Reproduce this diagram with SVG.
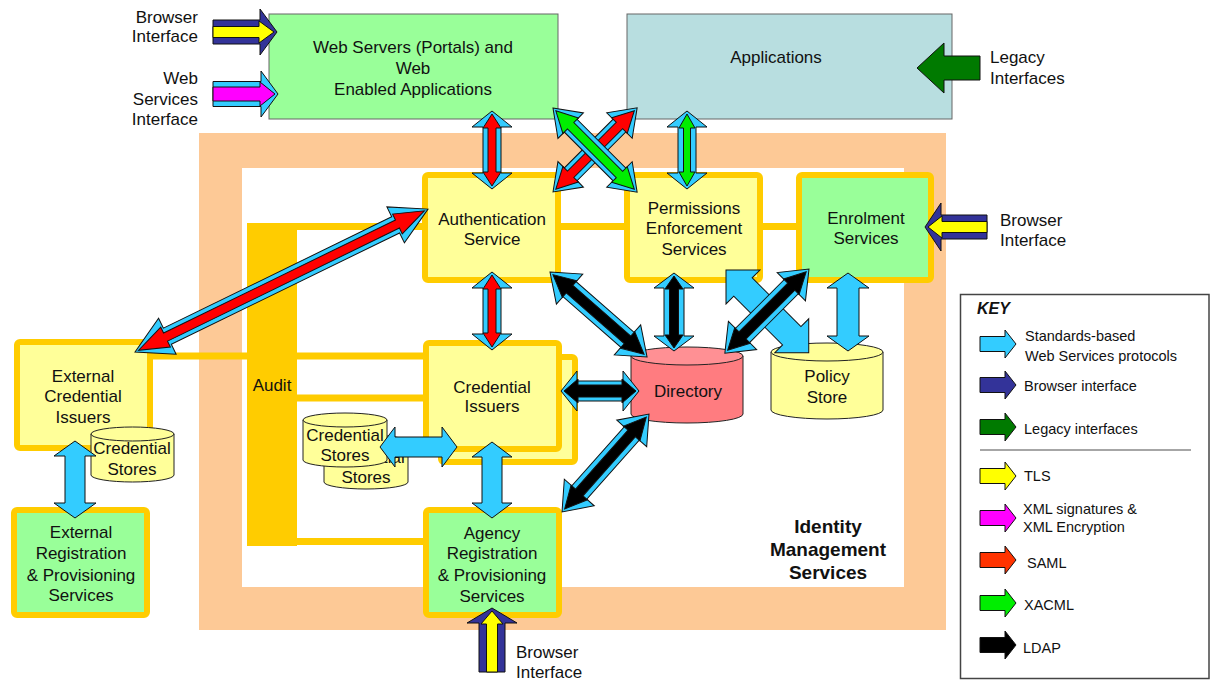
<svg xmlns="http://www.w3.org/2000/svg" width="1211" height="680" viewBox="0 0 1211 680">
  <style>
    .t{font-family:"Liberation Sans",Arial,sans-serif;font-size:17px;fill:#111;text-anchor:middle}
    .s{text-anchor:start}
    .e{text-anchor:end}
    .k{font-family:"Liberation Sans",Arial,sans-serif;font-size:14.5px;fill:#111}
    .box{stroke:#FFCC00;stroke-width:6}
    .yl{fill:#FFFF99}
    .gr{fill:#99FF99}
    .cyl{stroke:#222;stroke-width:1}
    .link{stroke:#FFCC00;stroke-width:7;fill:none}
    .ar polygon{stroke:#111;stroke-width:1;stroke-linejoin:miter}
    .c{fill:#33CCFF}
    .n{fill:#333399}
    .yw{fill:#FFFF00}
    .m{fill:#FF00FF}
    .r{fill:#FF0000}
    .gn{fill:#00EE00}
    .b{fill:#000}
    .lg{fill:#007A00}
    .sa{fill:#FF3300}
  </style>

  <!-- Identity Management Services frame -->
  <g id="ims-frame">
    <rect x="199" y="133" width="747" height="497" fill="#FDC996"/>
    <rect x="242" y="168" width="662" height="419" fill="#fff"/>
    <text class="t" x="828" y="533" style="font-weight:bold;font-size:19px">Identity</text>
    <text class="t" x="828" y="556" style="font-weight:bold;font-size:19px">Management</text>
    <text class="t" x="828" y="579" style="font-weight:bold;font-size:19px">Services</text>
  </g>

  <!-- audit links -->
  <g id="links">
    <line class="link" x1="297" y1="226.5" x2="796" y2="226.5"/>
    <line class="link" x1="150" y1="356" x2="426" y2="356"/>
    <line class="link" x1="297" y1="398" x2="426" y2="398"/>
    <line class="link" x1="297" y1="541.5" x2="426" y2="541.5"/>
  </g>

  <g id="audit">
    <rect x="247" y="223" width="50" height="323" fill="#FFCC00"/>
    <text class="t" x="272" y="391">Audit</text>
  </g>

  <g id="web-servers">
    <rect x="269" y="14" width="289" height="105" fill="#99FF99" stroke="#666" stroke-width="1"/>
    <text class="t" x="413" y="53">Web Servers (Portals) and</text>
    <text class="t" x="413" y="74">Web</text>
    <text class="t" x="413" y="95">Enabled Applications</text>
  </g>

  <g id="applications">
    <rect x="627" y="14" width="325" height="105" fill="#B8DEE0" stroke="#666" stroke-width="1"/>
    <text class="t" x="776" y="63">Applications</text>
  </g>

  <g id="authentication">
    <rect class="box yl" x="425" y="175" width="133" height="105" rx="3"/>
    <text class="t" x="492" y="225">Authentication</text>
    <text class="t" x="492" y="245">Service</text>
  </g>

  <g id="permissions">
    <rect class="box yl" x="627" y="175" width="133" height="105" rx="3"/>
    <text class="t" x="694" y="214">Permissions</text>
    <text class="t" x="694" y="234">Enforcement</text>
    <text class="t" x="694" y="255">Services</text>
  </g>

  <g id="enrolment">
    <rect class="box gr" x="799" y="175" width="132" height="105" rx="3"/>
    <text class="t" x="866" y="224">Enrolment</text>
    <text class="t" x="866" y="244">Services</text>
  </g>

  <g id="credential-issuers">
    <rect class="box yl" x="441" y="357" width="134" height="105" rx="3"/>
    <rect class="box yl" x="426" y="343" width="133" height="106" rx="3"/>
    <text class="t" x="492" y="393">Credential</text>
    <text class="t" x="492" y="412">Issuers</text>
  </g>

  <g id="agency-registration">
    <rect class="box gr" x="426" y="510" width="133" height="105" rx="3"/>
    <text class="t" x="492" y="539">Agency</text>
    <text class="t" x="492" y="559">Registration</text>
    <text class="t" x="492" y="581">&amp; Provisioning</text>
    <text class="t" x="492" y="602">Services</text>
  </g>

  <g id="external-credential-issuers">
    <rect class="box yl" x="17" y="342" width="133" height="106" rx="3"/>
    <text class="t" x="83" y="382">External</text>
    <text class="t" x="83" y="402">Credential</text>
    <text class="t" x="83" y="423">Issuers</text>
  </g>

  <g id="external-registration">
    <rect class="box gr" x="14" y="510" width="133" height="105" rx="3"/>
    <text class="t" x="81" y="538">External</text>
    <text class="t" x="81" y="559">Registration</text>
    <text class="t" x="81" y="581">&amp; Provisioning</text>
    <text class="t" x="81" y="601">Services</text>
  </g>

  <g id="external-credential-stores">
    <path class="cyl yl" d="M91,434 L91,475 A41.5,7 0 0 0 174,475 L174,434 Z"/>
    <ellipse class="cyl yl" cx="132.5" cy="434" rx="41.5" ry="7"/>
    <text class="t" x="132" y="454">Credential</text>
    <text class="t" x="132" y="475">Stores</text>
  </g>

  <g id="credential-stores">
    <path class="cyl yl" d="M324,442 L324,482 A42,7 0 0 0 408,482 L408,442 Z"/>
    <ellipse class="cyl yl" cx="366" cy="442" rx="42" ry="7"/>
    <text class="t" x="366" y="463">Credential</text>
    <text class="t" x="366" y="483">Stores</text>
    <path class="cyl yl" d="M303,420 L303,460 A42,7 0 0 0 387,460 L387,420 Z"/>
    <ellipse class="cyl yl" cx="345" cy="420" rx="42" ry="7"/>
    <text class="t" x="345" y="441">Credential</text>
    <text class="t" x="345" y="461">Stores</text>
  </g>

  <g id="directory">
    <path class="cyl" fill="#FF7C80" d="M631,356 L631,414 A56,9 0 0 0 743,414 L743,356 Z"/>
    <ellipse class="cyl" fill="#FF9094" cx="687" cy="356" rx="56" ry="9"/>
    <text class="t" x="688" y="397">Directory</text>
  </g>

  <g id="policy-store">
    <path class="cyl yl" d="M771,352 L771,410 A56,9 0 0 0 883,410 L883,352 Z"/>
    <ellipse class="cyl yl" cx="827" cy="352" rx="56" ry="9"/>
    <text class="t" x="827" y="382">Policy</text>
    <text class="t" x="827" y="403">Store</text>
  </g>

  <!-- protocol arrows -->
  <g id="connectors" class="ar">
    <!-- web servers <-> authentication (SAML) -->
    <g transform="translate(492,111) rotate(90)">
      <polygon class="c" points="0,0 16,-20 16,-9 62,-9 62,-20 78,0 62,20 62,9 16,9 16,20"/>
      <polygon class="r" points="3,0 17,-9 17,-4 61,-4 61,-9 75,0 61,9 61,4 17,4 17,9"/>
    </g>
    <!-- applications <-> permissions (XACML) -->
    <g transform="translate(687,111) rotate(90)">
      <polygon class="c" points="0,0 16,-20 16,-9 62,-9 62,-20 78,0 62,20 62,9 16,9 16,20"/>
      <polygon class="gn" points="3,0 17,-8 17,-3.5 61,-3.5 61,-8 75,0 61,8 61,3.5 17,3.5 17,8"/>
    </g>
    <!-- cross: authentication <-> applications (SAML) -->
    <g transform="translate(553,192) rotate(-45)">
      <polygon class="c" points="0,0 25,-18 25,-9 94,-9 94,-18 119,0 94,18 94,9 25,9 25,18"/>
      <polygon class="r" points="4,0 25,-11 25,-4.5 94,-4.5 94,-11 115,0 94,11 94,4.5 25,4.5 25,11"/>
    </g>
    <!-- cross: web servers <-> permissions (XACML) -->
    <g transform="translate(553,108) rotate(45)">
      <polygon class="c" points="0,0 25,-18 25,-9 94,-9 94,-18 119,0 94,18 94,9 25,9 25,18"/>
      <polygon class="gn" points="4,0 25,-11 25,-4.5 94,-4.5 94,-11 115,0 94,11 94,4.5 25,4.5 25,11"/>
    </g>
    <!-- external credential issuers <-> authentication (SAML) -->
    <g transform="translate(135,352) rotate(-26)">
      <polygon class="c" points="0,0 36,-20 36,-9 290,-9 290,-20 326,0 290,20 290,9 36,9 36,20"/>
      <polygon class="r" points="4,0 34,-11 34,-4.5 292,-4.5 292,-11 322,0 292,11 292,4.5 34,4.5 34,11"/>
    </g>
    <!-- authentication <-> credential issuers (SAML) -->
    <g transform="translate(492,272) rotate(90)">
      <polygon class="c" points="0,0 16,-20 16,-9 62,-9 62,-20 78,0 62,20 62,9 16,9 16,20"/>
      <polygon class="r" points="3,0 17,-9 17,-4 61,-4 61,-9 75,0 61,9 61,4 17,4 17,9"/>
    </g>
    <!-- authentication <-> directory (LDAP) -->
    <g transform="translate(550,272) rotate(41.2)">
      <polygon class="c" points="0,0 26,-20 26,-10 103,-10 103,-20 129,0 103,20 103,10 26,10 26,20"/>
      <polygon class="b" points="4,0 26,-11 26,-5 103,-5 103,-11 125,0 103,11 103,5 26,5 26,11"/>
    </g>
    <!-- permissions <-> directory (LDAP) -->
    <g transform="translate(674,273) rotate(90)">
      <polygon class="c" points="0,0 15,-20 15,-10 63,-10 63,-20 78,0 63,20 63,10 15,10 15,20"/>
      <polygon class="b" points="3,0 16,-9 16,-4.5 62,-4.5 62,-9 75,0 62,9 62,4.5 16,4.5 16,9"/>
    </g>
    <!-- permissions <-> policy store -->
    <g transform="translate(726,270) rotate(45)">
      <polygon class="c" points="0,0 24,-24 24,-13 93,-13 93,-24 117,0 93,24 93,13 24,13 24,24"/>
    </g>
    <!-- enrolment <-> directory (LDAP) -->
    <g transform="translate(809,269) rotate(135)">
      <polygon class="c" points="0,0 25,-20 25,-10 94,-10 94,-20 119,0 94,20 94,10 25,10 25,20"/>
      <polygon class="b" points="4,0 25,-11 25,-5 94,-5 94,-11 115,0 94,11 94,5 25,5 25,11"/>
    </g>
    <!-- enrolment <-> policy store -->
    <g transform="translate(848,273) rotate(90)">
      <polygon class="c" points="0,0 15,-21 15,-11 63,-11 63,-21 78,0 63,21 63,11 15,11 15,21"/>
    </g>
    <!-- credential issuers <-> directory (LDAP) -->
    <g transform="translate(561,391)">
      <polygon class="c" points="0,0 16,-20 16,-10 62,-10 62,-20 78,0 62,20 62,10 16,10 16,20"/>
      <polygon class="b" points="3,0 17,-12 17,-6 61,-6 61,-12 75,0 61,12 61,6 17,6 17,12"/>
    </g>
    <!-- agency registration <-> directory (LDAP) -->
    <g transform="translate(649,414) rotate(131.6)">
      <polygon class="c" points="0,0 26,-20 26,-10 105,-10 105,-20 131,0 105,20 105,10 26,10 26,20"/>
      <polygon class="b" points="4,0 26,-11 26,-5 105,-5 105,-11 127,0 105,11 105,5 26,5 26,11"/>
    </g>
    <!-- credential stores <-> credential issuers -->
    <g transform="translate(380,447)">
      <polygon class="c" points="0,0 15,-20 15,-10 62,-10 62,-20 77,0 62,20 62,10 15,10 15,20"/>
    </g>
    <!-- credential issuers <-> agency registration -->
    <g transform="translate(492,442) rotate(90)">
      <polygon class="c" points="0,0 15,-20 15,-10 61,-10 61,-20 76,0 61,20 61,10 15,10 15,20"/>
    </g>
    <!-- external credential issuers <-> external registration -->
    <g transform="translate(75,441) rotate(90)">
      <polygon class="c" points="0,0 15,-21 15,-10 62,-10 62,-21 77,0 62,21 62,10 15,10 15,21"/>
    </g>
    <!-- browser interface -> web servers -->
    <g transform="translate(213,32)">
      <polygon class="n" points="0,-12 47,-12 47,-23 64,0 47,23 47,12 0,12"/>
      <polygon class="yw" points="0,-5.5 46,-5.5 46,-11 61,0 46,11 46,5.5 0,5.5"/>
    </g>
    <!-- web services interface -> web servers -->
    <g transform="translate(213,94)">
      <polygon class="c" points="0,-12.5 48,-12.5 48,-23 65,0 48,23 48,12.5 0,12.5"/>
      <polygon class="m" points="0,-7 47,-7 47,-12 62,0 47,12 47,7 0,7"/>
    </g>
    <!-- legacy interfaces -> applications -->
    <g transform="translate(980,68) rotate(180)">
      <polygon class="lg" points="0,-12 36,-12 36,-25 63,0 36,25 36,12 0,12"/>
    </g>
    <!-- browser interface -> enrolment -->
    <g transform="translate(987,227) rotate(180)">
      <polygon class="n" points="0,-12 46,-12 46,-24 62,0 46,24 46,12 0,12"/>
      <polygon class="yw" points="0,-5.5 45,-5.5 45,-11 59,0 45,11 45,5.5 0,5.5"/>
    </g>
    <!-- browser interface -> agency registration -->
    <g transform="translate(492,672) rotate(-90)">
      <polygon class="n" points="0,-13 49,-13 49,-25 64,0 49,25 49,13 0,13"/>
      <polygon class="yw" points="0,-5.5 48,-5.5 48,-11 61,0 48,11 48,5.5 0,5.5"/>
    </g>
  </g>

  <!-- interface labels -->
  <g id="interface-labels">
    <text class="t e" x="198" y="23">Browser</text>
    <text class="t e" x="198" y="42">Interface</text>
    <text class="t e" x="198" y="84">Web</text>
    <text class="t e" x="198" y="105">Services</text>
    <text class="t e" x="198" y="125">Interface</text>
    <text class="t s" x="990" y="63">Legacy</text>
    <text class="t s" x="990" y="84">Interfaces</text>
    <text class="t s" x="1000" y="226">Browser</text>
    <text class="t s" x="1000" y="246">Interface</text>
    <text class="t s" x="516" y="658">Browser</text>
    <text class="t s" x="516" y="678">Interface</text>
  </g>

  <!-- key -->
  <g id="key">
    <rect x="960.5" y="294.5" width="248.5" height="384" fill="#fff" stroke="#444" stroke-width="1.5"/>
    <text class="k" x="977" y="314" style="font-weight:bold;font-style:italic;font-size:16px">KEY</text>
    <g class="ar">
      <polygon class="c" transform="translate(980,344)" points="0,-7.5 25,-7.5 25,-14 36,0 25,14 25,7.5 0,7.5"/>
      <polygon class="n" transform="translate(980,385)" points="0,-7.5 25,-7.5 25,-14 36,0 25,14 25,7.5 0,7.5"/>
      <polygon class="lg" transform="translate(980,427)" points="0,-7.5 25,-7.5 25,-14 36,0 25,14 25,7.5 0,7.5"/>
      <polygon class="yw" transform="translate(980,476)" points="0,-7.5 25,-7.5 25,-14 36,0 25,14 25,7.5 0,7.5"/>
      <polygon class="m" transform="translate(980,518)" points="0,-7.5 25,-7.5 25,-14 36,0 25,14 25,7.5 0,7.5"/>
      <polygon class="sa" transform="translate(980,560)" points="0,-7.5 25,-7.5 25,-14 36,0 25,14 25,7.5 0,7.5"/>
      <polygon class="gn" transform="translate(980,603)" points="0,-7.5 25,-7.5 25,-14 36,0 25,14 25,7.5 0,7.5"/>
      <polygon class="b" transform="translate(980,645)" points="0,-7.5 25,-7.5 25,-14 36,0 25,14 25,7.5 0,7.5"/>
    </g>
    <line x1="980" y1="450" x2="1191" y2="450" stroke="#888" stroke-width="1.5"/>
    <text class="k" x="1025" y="341">Standards-based</text>
    <text class="k" x="1025" y="361">Web Services protocols</text>
    <text class="k" x="1024" y="391">Browser interface</text>
    <text class="k" x="1024" y="434">Legacy interfaces</text>
    <text class="k" x="1024" y="481">TLS</text>
    <text class="k" x="1023" y="514">XML signatures &amp;</text>
    <text class="k" x="1023" y="532">XML Encryption</text>
    <text class="k" x="1027" y="568">SAML</text>
    <text class="k" x="1024" y="610">XACML</text>
    <text class="k" x="1023" y="653">LDAP</text>
  </g>
</svg>
